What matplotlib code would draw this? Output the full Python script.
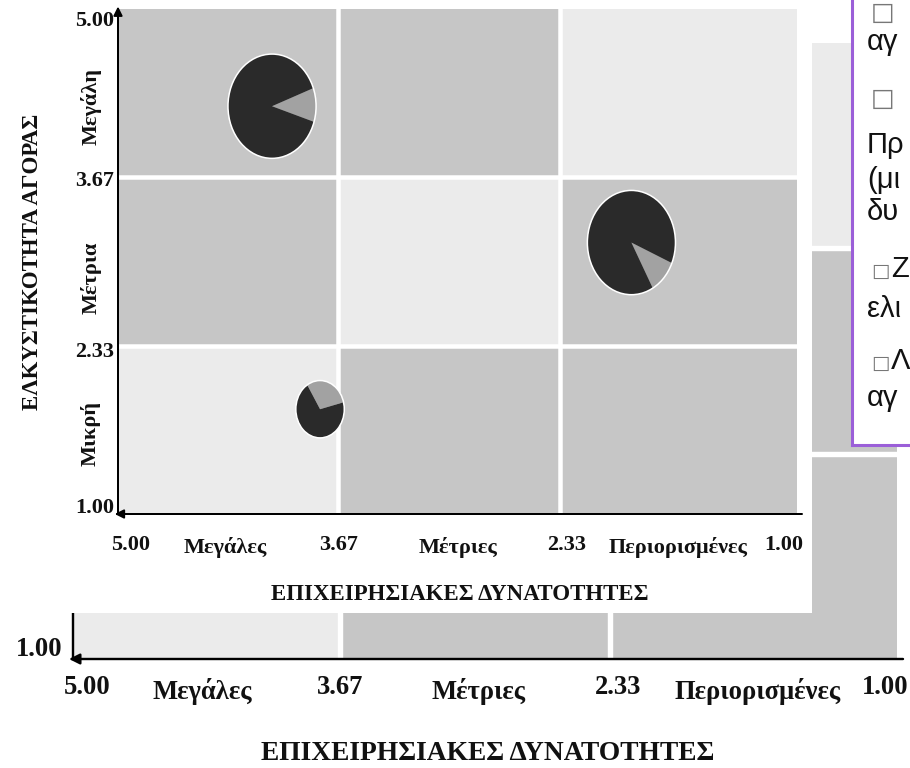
import numpy as np
import matplotlib
matplotlib.use("Agg")
import matplotlib.pyplot as plt
from matplotlib.patches import Rectangle, Circle

plt.rcParams["font.family"] = ["Liberation Serif", "DejaVu Serif"]

# ---- data ----
bounds = [5.00, 3.67, 2.33, 1.00]
tick_labels = ["5.00", "3.67", "2.33", "1.00"]
x_levels = ["Μεγάλες", "Μέτριες", "Περιορισμένες"]
y_levels = ["Μεγάλη", "Μέτρια", "Μικρή"]
x_title = "ΕΠΙΧΕΙΡΗΣΙΑΚΕΣ ΔΥΝΑΤΟΤΗΤΕΣ"
y_title = "ΕΛΚΥΣΤΙΚΟΤΗΤΑ ΑΓΟΡΑΣ"
# shade of each cell: rows from high to low attractiveness, cols from strong to weak
cell_shade = [[1, 1, 0],
              [1, 0, 1],
              [0, 1, 1]]
pie_x = [4.07, 1.90, 3.78]
pie_y = [4.23, 3.15, 1.83]
pie_size = [1.0, 1.0, 0.55]
pie_share = [0.105, 0.105, 0.30]
pie_start = [-17.5, -61, 14]

# the part of the side note that shows inside the picture
note_lines = ["□", "αγ", "□", "Πρ", "(μι", "δυ", "□ Ζ", "ελι", "□ Λ", "αγ"]
note_base = [20, 50, 106, 153, 188, 220, 277, 317, 369, 406]

# ---- layout ----
W, H = 910, 768
X_AXIS_END = 0.87
X_CELL_END = 0.90
shade_colors = ["#ebebeb", "#c6c6c6"]
dark, light = "#2a2a2a", "#a2a2a2"
PT = 0.72  # points per pixel at dpi 100


def fbox(l, t, r, b):
    return [l / W, 1 - b / H, (r - l) / W, (b - t) / H]


def draw_matrix(ax, s, drop, tdrop, tick_dx, cat_dx, ytick=True):
    ax.set_xlim(5.0, X_AXIS_END)
    ax.set_ylim(1.0, 5.0)
    ax.set_axis_off()
    xe = bounds[:-1] + [X_CELL_END]
    ye = bounds
    for r in range(3):
        for c in range(3):
            ax.add_patch(Rectangle((xe[c + 1], ye[r + 1]), xe[c] - xe[c + 1],
                                   ye[r] - ye[r + 1], facecolor=shade_colors[cell_shade[r][c]],
                                   edgecolor="none", zorder=0))
    for b in bounds[1:3]:
        ax.axvline(b, color="white", lw=4.5 * s * PT, zorder=1)
        ax.axhline(b, color="white", lw=4.5 * s * PT, zorder=1)

    arrow = dict(arrowstyle="-|>", color="black", lw=2.0 * s * PT,
                 mutation_scale=13 * s, shrinkA=0, shrinkB=0)
    ax.annotate("", xy=(5.0, 5.02), xytext=(5.0, 1.0), arrowprops=arrow,
                annotation_clip=False, zorder=3)
    ax.annotate("", xy=(5.02, 1.0), xytext=(X_AXIS_END, 1.0), arrowprops=arrow,
                annotation_clip=False, zorder=3)

    xt = ax.get_xaxis_transform()
    for v, lab, dx in zip(bounds, tick_labels, tick_dx):
        ax.annotate(lab, (v, 0), xycoords=xt, xytext=(dx * PT, -drop * PT),
                    textcoords="offset points", ha="center", va="center",
                    fontsize=16 * s, fontweight="bold", color="#111111")
    mids = [(bounds[i] + bounds[i + 1]) / 2 for i in range(3)]
    for v, lab, dx in zip(mids, x_levels, cat_dx):
        ax.annotate(lab, (v, 0), xycoords=xt, xytext=(dx * PT, -(drop + 3 * s) * PT),
                    textcoords="offset points", ha="center", va="center",
                    fontsize=16 * s, fontweight="bold", color="#111111")
    ax.annotate(x_title, (0.5, 0), xycoords="axes fraction", xytext=(0, -tdrop * PT),
                textcoords="offset points", ha="center", va="center",
                fontsize=16.5 * s, fontweight="bold", color="#111111")
    yt = ax.get_yaxis_transform()
    if ytick:
        for v, lab, dy in zip(bounds, tick_labels, [-12, -4, -6, 6]):
            ax.annotate(lab, (0, v), xycoords=yt, xytext=(-4 * PT, dy * PT),
                        textcoords="offset points", ha="right", va="center",
                        fontsize=16 * s, fontweight="bold", color="#111111")
        for v, lab, dy in zip(mids, y_levels, [-14, -16, -3]):
            ax.annotate(lab, (0, v), xycoords=yt, xytext=(-27 * PT, dy * PT),
                        textcoords="offset points", ha="center", va="center",
                        rotation=90, fontsize=16 * s, fontweight="bold", color="#111111")
        ax.annotate(y_title, (0, 0.5), xycoords="axes fraction", xytext=(-86 * PT, 0),
                    textcoords="offset points", ha="center", va="center",
                    rotation=90, fontsize=16.5 * s, fontweight="bold", color="#111111")
    else:
        ax.annotate(tick_labels[-1], (0, bounds[-1]), xycoords=yt, xytext=(-11 * PT, 9 * PT),
                    textcoords="offset points", ha="right", va="center",
                    fontsize=16 * s, fontweight="bold", color="#111111")


fig = plt.figure(figsize=(W / 100, H / 100), dpi=100)

# larger copy of the matrix behind
axb = fig.add_axes(fbox(73, 43, 903, 659))
axb.set_zorder(0)
draw_matrix(axb, 1.2, drop=29, tdrop=94, tick_dx=[14, 0, 8, 8], cat_dx=[-4, 4, 14], ytick=False)

# white page holding the smaller copy
fig.add_artist(Rectangle((0, 1 - 613 / H), 812 / W, 613 / H, transform=fig.transFigure,
                         facecolor="white", edgecolor="none", zorder=1))

ax = fig.add_axes(fbox(118, 9, 802, 514))
ax.set_zorder(2)
draw_matrix(ax, 1.0, drop=31, tdrop=81, tick_dx=[13, 0, 6, 3], cat_dx=[-3, 9, 8])

# pies
base_rx, base_ry = 0.266, 0.413
for px, py, sz, sh, st in zip(pie_x, pie_y, pie_size, pie_share, pie_start):
    rx, ry = base_rx * sz, base_ry * sz
    p0 = ax.transAxes.inverted().transform(ax.transData.transform((px + rx, py - ry)))
    p1 = ax.transAxes.inverted().transform(ax.transData.transform((px - rx, py + ry)))
    ins = ax.inset_axes([p0[0], p0[1], p1[0] - p0[0], p1[1] - p0[1]])
    ins.pie([sh, 1 - sh], colors=[light, dark], startangle=st, counterclock=True,
            wedgeprops=dict(linewidth=0))
    ins.add_patch(Circle((0, 0), 1.0, fill=False, edgecolor="white", lw=1.1, clip_on=False))
    ins.set_aspect("auto")
    ins.set_xlim(-1, 1)
    ins.set_ylim(-1, 1)
    ins.set_axis_off()

# side note on the right, mostly outside the picture
axn = fig.add_axes(fbox(852, 0, 910, 445))
axn.set_zorder(3)
axn.set_xlim(852, 910)
axn.set_ylim(445, 0)
axn.set_xticks([])
axn.set_yticks([])
for side in ["top", "right"]:
    axn.spines[side].set_visible(False)
for side in ["left", "bottom"]:
    axn.spines[side].set_color("#9b5fd8")
    axn.spines[side].set_linewidth(2.2)
for line, yb in zip(note_lines, note_base):
    if line.startswith("□"):
        big = line == "□"
        axn.text(871, yb, "□", fontsize=18 if big else 14, family="DejaVu Sans",
                 color="#777777", va="baseline", ha="left")
        rest = line[1:].strip()
        if rest:
            axn.text(891, yb, rest, fontsize=21, family="Liberation Sans",
                     color="#111111", va="baseline", ha="left")
    else:
        axn.text(867, yb, line, fontsize=21, family="Liberation Sans",
                 color="#111111", va="baseline", ha="left")

fig.savefig("out.png", dpi=100)
